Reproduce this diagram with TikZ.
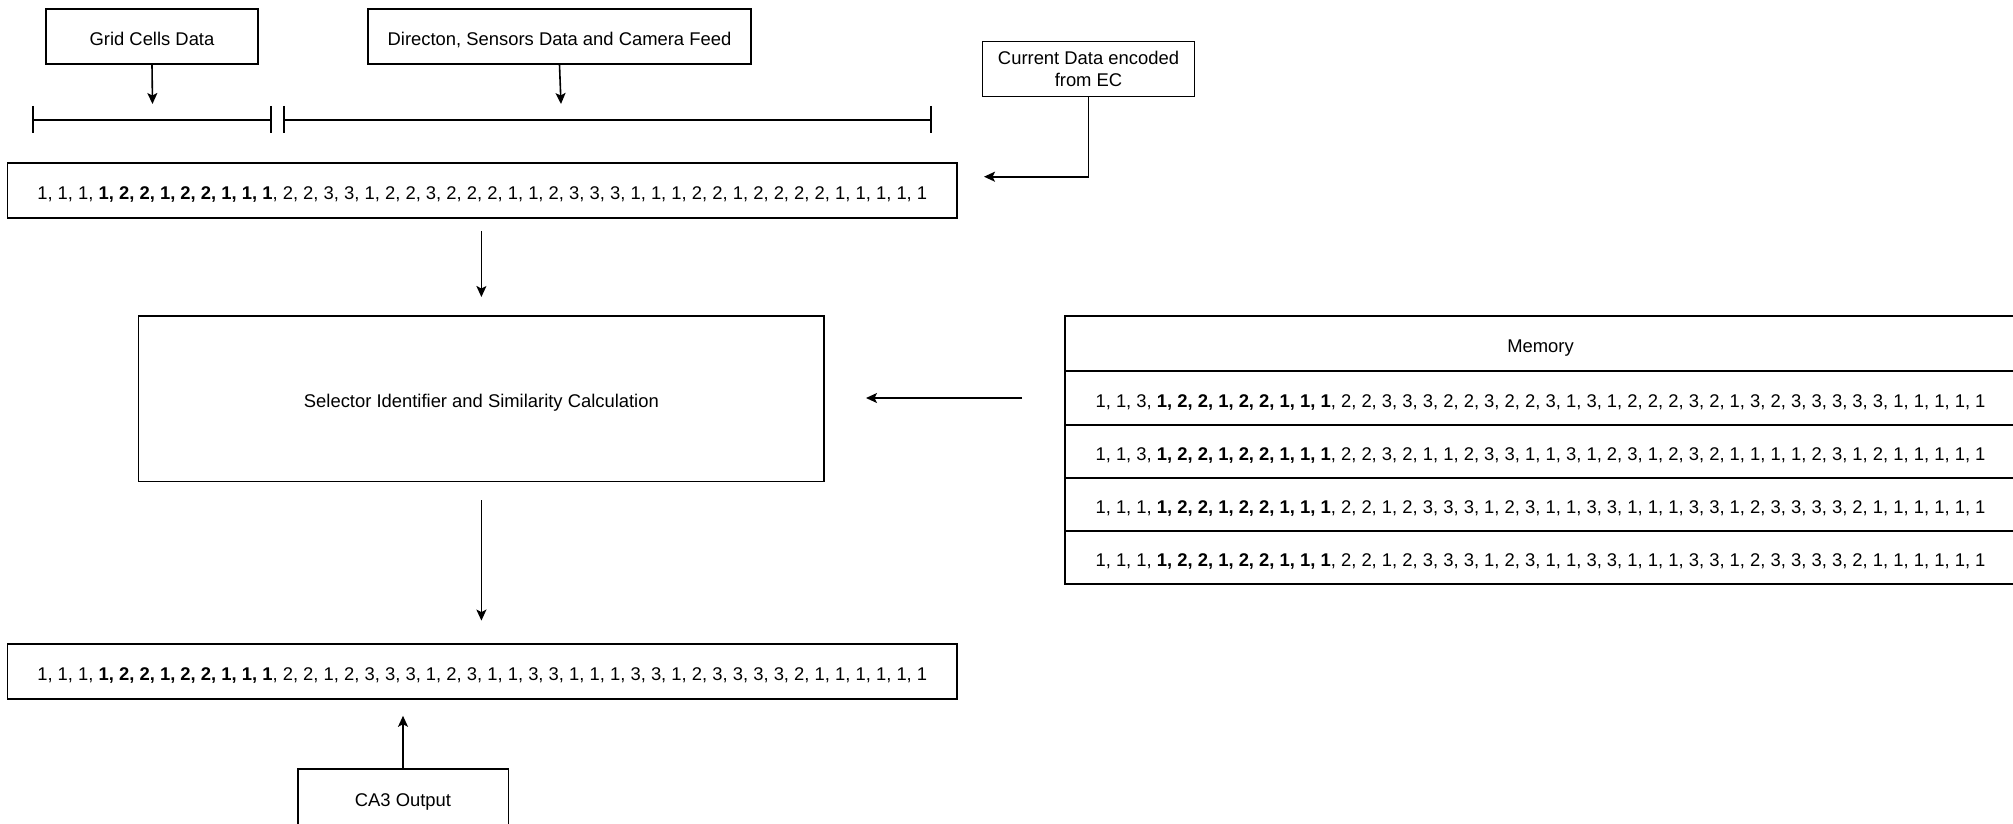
\documentclass[tikz,border=0pt]{standalone}
\usepackage{fontspec}
\setmainfont{Liberation Sans}
\usetikzlibrary{arrows.meta}
\begin{document}
\begin{tikzpicture}[x=1pt,y=-1pt,
  plainbox/.style={draw, line width=1.6pt, inner sep=0pt, align=center,
    font=\fontsize{18.4}{21.5}\selectfont},
  box/.style={plainbox, text height=18.2pt, text depth=0.2pt},
  link/.style={line width=1.6pt, -{Stealth[length=11pt,width=10pt,inset=2.5pt]}},
  bracket/.style={line width=1.6pt}]
\useasboundingbox (0,0) rectangle (2013,824);

% input sources
\node[box, minimum width=212pt, minimum height=55pt] (grid) at (152,36.5) {Grid Cells Data};
\node[box, minimum width=383pt, minimum height=55pt] (dir) at (559.5,36.5) {Directon, Sensors Data and Camera Feed};
\node[plainbox, minimum width=212pt, minimum height=55pt] (ec) at (1088.5,69) {Current Data encoded\\[1pt]from EC};

% spans of the encoded vector
\draw[bracket] (33,120) -- (271,120) (33,106) -- (33,133) (271,106) -- (271,133);
\draw[bracket] (284,120) -- (931,120) (284,106) -- (284,133) (931,106) -- (931,133);
\coordinate (gridtip) at (152.5,104);
\coordinate (dirtip) at (561,104);
\draw[link] (grid.south) -- (gridtip);
\draw[link] (dir.south) -- (dirtip);

% current vector
\node[box, minimum width=949.5pt, minimum height=55pt] (cur) at (482.25,190.5)
  {1, 1, 1, \textbf{1, 2, 2, 1, 2, 2, 1, 1, 1}, 2, 2, 3, 3, 1, 2, 2, 3, 2, 2, 2, 1, 1, 2, 3, 3, 3, 1, 1, 1, 2, 2, 1, 2, 2, 2, 2, 1, 1, 1, 1, 1};
\coordinate (curtip) at (984,176.7);
\draw[link] (ec.south) |- (curtip);

% selector
\node[box, minimum width=685.6pt, minimum height=165.6pt] (sel) at (481.4,398.6)
  {Selector Identifier and Similarity Calculation};
\draw[link, shorten <=12pt, shorten >=18pt] (cur.south -| sel.north) -- (sel.north);

% memory table
\node[box, minimum width=951pt, minimum height=55pt] (mem) at (1540.5,343.5) {Memory};
\node[box, minimum width=951pt, minimum height=54pt] (m1) at (1540.5,398)
  {1, 1, 3, \textbf{1, 2, 2, 1, 2, 2, 1, 1, 1}, 2, 2, 3, 3, 3, 2, 2, 3, 2, 2, 3, 1, 3, 1, 2, 2, 2, 3, 2, 1, 3, 2, 3, 3, 3, 3, 3, 1, 1, 1, 1, 1};
\node[box, minimum width=951pt, minimum height=53pt] (m2) at (1540.5,451.5)
  {1, 1, 3, \textbf{1, 2, 2, 1, 2, 2, 1, 1, 1}, 2, 2, 3, 2, 1, 1, 2, 3, 3, 1, 1, 3, 1, 2, 3, 1, 2, 3, 2, 1, 1, 1, 1, 2, 3, 1, 2, 1, 1, 1, 1, 1};
\node[box, minimum width=951pt, minimum height=53pt] (m3) at (1540.5,504.5)
  {1, 1, 1, \textbf{1, 2, 2, 1, 2, 2, 1, 1, 1}, 2, 2, 1, 2, 3, 3, 3, 1, 2, 3, 1, 1, 3, 3, 1, 1, 1, 3, 3, 1, 2, 3, 3, 3, 3, 2, 1, 1, 1, 1, 1, 1};
\node[box, minimum width=951pt, minimum height=53pt] (m4) at (1540.5,557.5)
  {1, 1, 1, \textbf{1, 2, 2, 1, 2, 2, 1, 1, 1}, 2, 2, 1, 2, 3, 3, 3, 1, 2, 3, 1, 1, 3, 3, 1, 1, 1, 3, 3, 1, 2, 3, 3, 3, 3, 2, 1, 1, 1, 1, 1, 1};
\draw[link, shorten <=42pt, shorten >=41pt] (m1.west) -- (m1.west -| sel.east);

% output vector
\node[box, minimum width=949.5pt, minimum height=55pt] (bot) at (482.25,671.5)
  {1, 1, 1, \textbf{1, 2, 2, 1, 2, 2, 1, 1, 1}, 2, 2, 1, 2, 3, 3, 3, 1, 2, 3, 1, 1, 3, 3, 1, 1, 1, 3, 3, 1, 2, 3, 3, 3, 3, 2, 1, 1, 1, 1, 1, 1};
\draw[link, shorten <=18pt, shorten >=22.6pt] (sel.south) -- (sel.south |- bot.north);

\node[box, minimum width=210.6pt, minimum height=57pt] (ca3) at (403,797.5) {CA3 Output};
\draw[link, shorten >=16pt] (ca3.north) -- (ca3.north |- bot.south);
\end{tikzpicture}
\end{document}
